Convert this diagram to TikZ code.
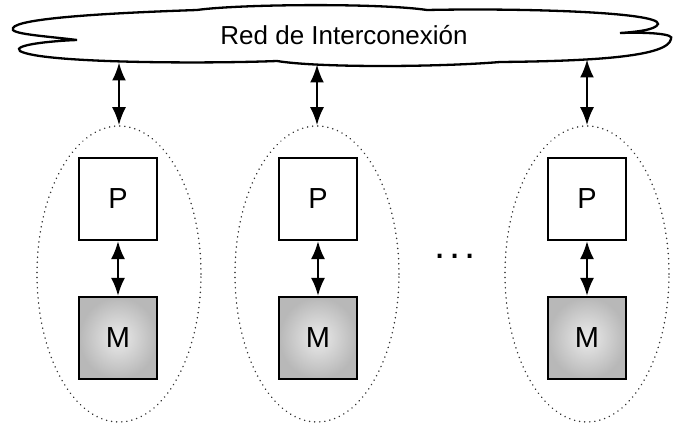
\documentclass[tikz,border=0pt]{standalone}
\usepackage{fontspec}
\setmainfont{Liberation Sans}
\usetikzlibrary{shapes.geometric,arrows.meta}
\tikzset{
  box/.style={draw, line width=2.2pt, minimum width=78pt, minimum height=82pt, inner sep=0pt, font=\fontsize{29}{32}\selectfont},
  procbox/.style={box, fill=white},
  membox/.style={box, inner color=black!8, outer color=black!28},
  group/.style={draw=black!80, ellipse, line width=1.6pt, dash pattern=on 0.1pt off 5pt, line cap=round, minimum width=164pt, minimum height=296pt, inner sep=0pt},
  biarrow/.style={{Latex[length=18pt,width=14pt]}-{Latex[length=18pt,width=14pt]}, line width=2.2pt},
  cloudline/.style={draw, line width=2.3pt, fill=white}
}
\begin{document}
\begin{tikzpicture}[x=1pt,y=-1pt]
\useasboundingbox (0,0) rectangle (673,425);
% cloud
\draw[cloudline] (77,40) .. controls (45,36) and (8,34) .. (13,28)
  .. controls (18,18) and (110,13) .. (197,10)
  .. controls (240,4) and (380,3) .. (427,10)
  .. controls (520,8) and (660,12) .. (658,24)
  .. controls (656,30) and (635,32) .. (620,33)
  .. controls (650,32) and (675,34) .. (671,39)
  .. controls (668,56) and (600,61) .. (500,62)
  .. controls (440,67) and (320,68) .. (277,61)
  .. controls (200,64) and (40,63) .. (20,51)
  .. controls (12,45) and (50,41) .. (77,40) -- cycle;
\node[font=\fontsize{26}{30}\selectfont, anchor=base] (net) at (344,45) {Red de Interconexión};
\coordinate (c1) at (119,62.5);
\coordinate (c2) at (317,64.5);
\coordinate (c3) at (587,59.5);
% groups
\node[group] (e1) at (119,274) {};
\node[group] (e2) at (317,274) {};
\node[group] (e3) at (587,274) {};
\node[procbox] (p1) at (118,199) {P};
\node[procbox] (p2) at (318,199) {P};
\node[procbox] (p3) at (587,199) {P};
\node[membox] (m1) at (118,338) {M};
\node[membox] (m2) at (318,338) {M};
\node[membox] (m3) at (587,338) {M};
\draw[biarrow] (c1) -- (e1.north);
\draw[biarrow] (c2) -- (e2.north);
\draw[biarrow] (c3) -- (e3.north);
\draw[biarrow] (p1) -- (m1);
\draw[biarrow] (p2) -- (m2);
\draw[biarrow] (p3) -- (m3);
\node[font=\fontsize{40}{42}\selectfont] (dots) at (455,256) {.\kern4pt.\kern4pt.};
\end{tikzpicture}
\end{document}
